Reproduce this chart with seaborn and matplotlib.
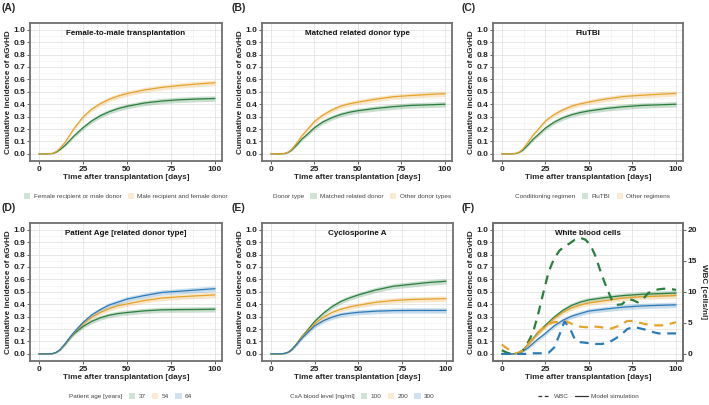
import numpy as np
import pandas as pd
import matplotlib
matplotlib.use('Agg')
import matplotlib.pyplot as plt
from matplotlib.patches import Patch
from matplotlib.lines import Line2D
import seaborn as sns

sns.set_theme(style='whitegrid')
plt.rcParams['font.family'] = ['Liberation Sans', 'DejaVu Sans']

# ---- data ----
days = [0, 5, 8, 10, 12, 15, 18, 20, 25, 30, 35, 40, 45, 50, 60, 70, 80, 90, 100]
ci_half = [0, 0, 0.002, 0.004, 0.007, 0.011, 0.014, 0.015, 0.017, 0.018, 0.019, 0.019, 0.02, 0.02, 0.021, 0.021, 0.022, 0.022, 0.022]

a_green = [0, 0, 0.004, 0.015, 0.035, 0.07, 0.115, 0.145, 0.21, 0.265, 0.308, 0.34, 0.365, 0.383, 0.41, 0.426, 0.436, 0.442, 0.446]
a_orange = [0, 0, 0.005, 0.02, 0.045, 0.095, 0.16, 0.205, 0.295, 0.36, 0.405, 0.44, 0.466, 0.486, 0.515, 0.536, 0.551, 0.563, 0.573]

b_green = [0, 0, 0.003, 0.012, 0.03, 0.073, 0.121, 0.145, 0.21, 0.258, 0.291, 0.317, 0.335, 0.348, 0.366, 0.38, 0.39, 0.395, 0.40]
b_orange = [0, 0, 0.004, 0.015, 0.036, 0.09, 0.149, 0.179, 0.26, 0.313, 0.353, 0.384, 0.403, 0.417, 0.44, 0.46, 0.47, 0.478, 0.485]

c_green = [0, 0, 0.003, 0.012, 0.029, 0.071, 0.118, 0.143, 0.207, 0.255, 0.29, 0.315, 0.333, 0.346, 0.366, 0.38, 0.39, 0.395, 0.40]
c_orange = [0, 0, 0.004, 0.015, 0.037, 0.092, 0.152, 0.182, 0.264, 0.316, 0.354, 0.384, 0.403, 0.418, 0.443, 0.462, 0.472, 0.48, 0.487]

d_green = [0, 0, 0.003, 0.013, 0.033, 0.081, 0.135, 0.164, 0.22, 0.262, 0.291, 0.312, 0.325, 0.333, 0.347, 0.355, 0.357, 0.358, 0.36]
d_orange = [0, 0, 0.003, 0.013, 0.033, 0.082, 0.138, 0.17, 0.243, 0.294, 0.334, 0.365, 0.388, 0.402, 0.43, 0.45, 0.46, 0.468, 0.475]
d_blue = [0, 0, 0.003, 0.013, 0.033, 0.083, 0.14, 0.175, 0.252, 0.313, 0.357, 0.394, 0.417, 0.441, 0.47, 0.495, 0.505, 0.515, 0.525]

e_green = [0, 0, 0.004, 0.014, 0.035, 0.086, 0.144, 0.175, 0.261, 0.327, 0.381, 0.422, 0.451, 0.475, 0.515, 0.545, 0.56, 0.575, 0.585]
e_orange = [0, 0, 0.004, 0.014, 0.035, 0.084, 0.14, 0.167, 0.243, 0.294, 0.334, 0.36, 0.378, 0.392, 0.416, 0.43, 0.438, 0.442, 0.445]
e_blue = [0, 0, 0.004, 0.014, 0.034, 0.081, 0.13, 0.158, 0.225, 0.267, 0.296, 0.317, 0.327, 0.335, 0.344, 0.349, 0.35, 0.35, 0.35]

f_green = [0, 0, 0.003, 0.012, 0.03, 0.075, 0.125, 0.16, 0.23, 0.295, 0.35, 0.39, 0.417, 0.435, 0.455, 0.47, 0.48, 0.485, 0.49]
f_orange = [0, 0, 0.003, 0.012, 0.03, 0.07, 0.12, 0.153, 0.22, 0.285, 0.335, 0.37, 0.393, 0.41, 0.43, 0.45, 0.46, 0.465, 0.47]
f_blue = [0, 0, 0.002, 0.008, 0.02, 0.048, 0.085, 0.11, 0.165, 0.225, 0.27, 0.303, 0.325, 0.345, 0.362, 0.377, 0.386, 0.391, 0.395]

wbc_days = [0, 3, 6, 9, 12, 15, 18, 21, 24, 27, 30, 33, 36, 39, 42, 45, 48, 51, 54, 57, 60, 63, 66, 69, 72, 75, 78, 81, 84, 87, 90, 93, 96, 100]
wbc_green = [0.6, 0.2, 0.0, 0.1, 0.5, 1.8, 3.5, 6.5, 10.0, 13.3, 15.3, 16.6, 17.3, 17.8, 18.4, 18.7, 18.4, 17.5, 15.6, 13.0, 10.8, 8.8, 7.9, 8.0, 8.8, 8.7, 8.3, 8.8, 9.8, 10.2, 10.4, 10.5, 10.5, 10.3]
wbc_orange = [1.5, 0.9, 0.3, 0.1, 0.5, 1.5, 2.6, 3.5, 4.3, 4.8, 5.1, 5.2, 5.3, 5.0, 4.6, 4.4, 4.3, 4.3, 4.4, 4.3, 4.1, 4.1, 4.4, 4.8, 5.3, 5.3, 5.1, 4.9, 4.7, 4.6, 4.6, 4.6, 4.8, 5.1]
wbc_blue = [0.0, 0.0, 0.0, 0.0, 0.0, 0.0, 0.1, 0.1, 0.1, 0.2, 1.0, 3.0, 5.2, 4.2, 2.3, 1.9, 1.8, 1.7, 1.6, 1.6, 1.7, 2.1, 2.6, 3.2, 4.0, 4.3, 4.2, 4.0, 3.8, 3.5, 3.3, 3.3, 3.3, 3.3]

GREEN, ORANGE, BLUE = '#2a7f3e', '#e6a32c', '#2b7bb9'

W, H = 709, 405
fig = plt.figure(figsize=(W / 100, H / 100), dpi=100)


def box(l, t, r, b):
    return [l / W, 1 - b / H, (r - l) / W, (b - t) / H]


def style_axes(ax, title):
    ax.set_facecolor('white')
    ax.set_xlim(-5, 104)
    ax.set_ylim(-0.057, 1.054)
    ax.set_xticks([0, 25, 50, 75, 100])
    ax.set_xticks([12.5, 37.5, 62.5, 87.5], minor=True)
    ax.set_yticks(np.round(np.arange(0, 1.01, 0.1), 1))
    ax.set_yticks(np.arange(0.05, 1.0, 0.1), minor=True)
    ax.grid(which='major', color='#e3e3e3', lw=0.6)
    ax.grid(which='minor', color='#efefef', lw=0.4)
    ax.tick_params(which='major', length=2, width=0.6, color='#444444', pad=1.5,
                   labelsize=6.0, labelcolor='#222222', bottom=True, left=True)
    ax.tick_params(which='minor', length=0)
    for lab in ax.get_xticklabels() + ax.get_yticklabels():
        lab.set_fontweight('bold')
    for s in ax.spines.values():
        s.set_color('#707070')
        s.set_linewidth(1.3)
    ax.set_xlabel('Time after transplantation [days]', fontsize=5.9, fontweight='bold', labelpad=1)
    ax.set_ylabel('Cumulative incidence of aGvHD', fontsize=5.9, fontweight='bold', labelpad=1)
    ax.text(0.5, 0.923, title, transform=ax.transAxes, ha='center', va='center',
            fontsize=5.8, fontweight='bold', color='#111111')


def draw_curves(ax, series):
    rows = []
    for name, vals, col in series:
        lo = [v - c for v, c in zip(vals, ci_half)]
        hi = [v + c for v, c in zip(vals, ci_half)]
        ax.fill_between(days, lo, hi, color=col, alpha=0.25, lw=0)
        rows += [{'day': d, 'cuminc': v, 'group': name} for d, v in zip(days, vals)]
    df = pd.DataFrame(rows)
    sns.lineplot(data=df, x='day', y='cuminc', hue='group',
                 palette={n: c for n, _, c in series}, lw=0.9, ax=ax, legend=False)


def patch_legend(ax, title, series, y_off):
    handles, labels = [], []
    if title:
        handles.append(Patch(facecolor='none', edgecolor='none'))
        labels.append(title)
    for name, _, col in series:
        handles.append(Patch(facecolor=col, alpha=0.22, edgecolor='none'))
        labels.append(name)
    leg = ax.legend(handles, labels, loc='center', bbox_to_anchor=(0.5, y_off),
                    ncol=len(handles), frameon=False, fontsize=4.6,
                    handlelength=1.0, handleheight=1.0, handletextpad=0.5,
                    columnspacing=1.0, labelcolor='#444444')
    if title:
        leg.legend_handles[0].set_visible(False)


panels = [
    ('(A)', box(30, 23, 222, 161), 'Female-to-male transplantation', None,
     [('Female recipient or male donor', a_green, GREEN),
      ('Male recipient and female donor', a_orange, ORANGE)]),
    ('(B)', box(262, 23, 452, 161), 'Matched related donor type', 'Donor type',
     [('Matched related donor', b_green, GREEN),
      ('Other donor types', b_orange, ORANGE)]),
    ('(C)', box(493, 23, 683, 161), 'FluTBI', 'Conditioning regimen',
     [('FluTBI', c_green, GREEN),
      ('Other regimens', c_orange, ORANGE)]),
    ('(D)', box(30, 223, 222, 361), 'Patient Age [related donor type]', 'Patient age [years]',
     [('37', d_green, GREEN), ('54', d_orange, ORANGE), ('64', d_blue, BLUE)]),
    ('(E)', box(262, 223, 453, 361), 'Cyclosporine A', 'CsA blood level [ng/ml]',
     [('100', e_green, GREEN), ('200', e_orange, ORANGE), ('300', e_blue, BLUE)]),
    ('(F)', box(493, 223, 683, 361), 'White blood cells', None,
     [('g', f_green, GREEN), ('o', f_orange, ORANGE), ('b', f_blue, BLUE)]),
]

label_pos = {'(A)': (2, 8), '(B)': (232, 8), '(C)': (462, 8),
             '(D)': (2, 208), '(E)': (232, 208), '(F)': (462, 208)}

y_leg = -(196 - 161) / 138

for tag, rect, title, ltitle, series in panels:
    ax = fig.add_axes(rect)
    draw_curves(ax, series)
    style_axes(ax, title)
    lx, ly = label_pos[tag]
    fig.text(lx / W, 1 - ly / H, tag, fontsize=7.5, fontweight='bold', va='center', ha='left')
    if tag != '(F)':
        patch_legend(ax, ltitle, series, y_leg)
    else:
        ax2 = ax.twinx()
        wbc = pd.DataFrame({'day': wbc_days * 3,
                            'wbc': wbc_green + wbc_orange + wbc_blue,
                            'group': ['g'] * len(wbc_days) + ['o'] * len(wbc_days) + ['b'] * len(wbc_days)})
        sns.lineplot(data=wbc, x='day', y='wbc', hue='group',
                     palette={'g': GREEN, 'o': ORANGE, 'b': BLUE},
                     lw=1.6, dashes=False, ax=ax2, legend=False)
        for ln in ax2.get_lines():
            ln.set_linestyle((0, (4, 3)))
        ax2.set_ylim(-0.057 * 20, 1.054 * 20)
        ax2.set_yticks([0, 5, 10, 15, 20])
        ax2.grid(False)
        ax2.tick_params(length=2, width=0.6, color='#444444', pad=1.5, labelsize=6.0,
                        labelcolor='#222222', right=True)
        for lab in ax2.get_yticklabels():
            lab.set_fontweight('bold')
        for s in ax2.spines.values():
            s.set_color('#707070')
            s.set_linewidth(1.3)
        ax2.set_ylabel('WBC [cells/nl]', fontsize=5.9, fontweight='bold', rotation=270, labelpad=7)
        handles = [Line2D([], [], color='#333333', lw=0.9, ls=(0, (3, 2))),
                   Line2D([], [], color='#333333', lw=0.9)]
        ax.legend(handles, ['WBC', 'Model simulation'], loc='center',
                  bbox_to_anchor=(0.5, y_leg), ncol=2, frameon=False, fontsize=4.6,
                  handlelength=2.0, handletextpad=0.5, columnspacing=1.0, labelcolor='#444444')

fig.savefig('out.png', dpi=100, facecolor='white')
